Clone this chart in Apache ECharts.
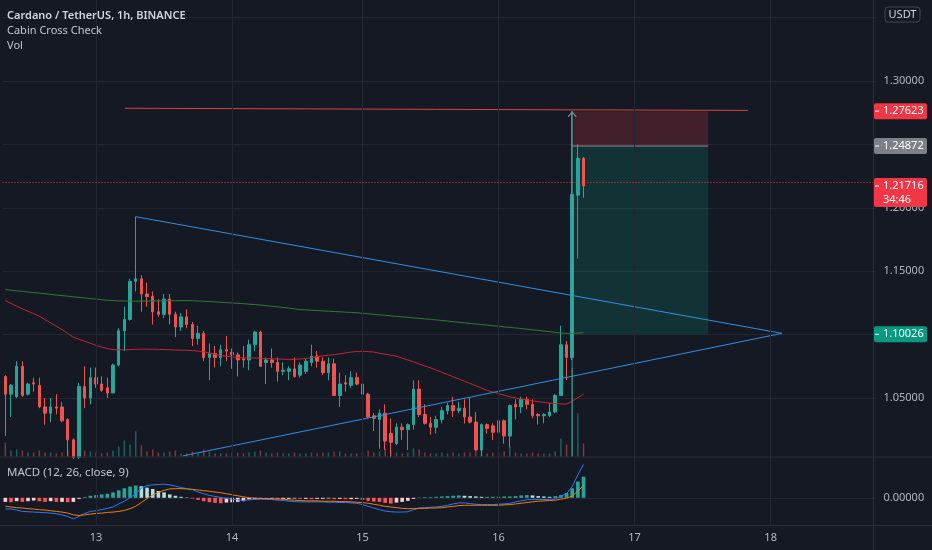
<!DOCTYPE html>
<html><head><meta charset="utf-8">
<script src="https://cdn.jsdelivr.net/npm/echarts@6/dist/echarts.min.js"></script>
<style>html,body{margin:0;padding:0;background:#151924;}#c{width:932px;height:550px;}</style>
</head><body><div id="c"></div>
<script>
// ---------- DATA ----------
// hourly bars, first bar = 12th 08:00 ; one hour missing on the 14th
const firstDay = 12, firstHour = 8, missingHour = '14 06', slotCount = 154;

const opens = [
1.067,1.053,1.051,1.075,1.053,1.062,1.060,1.043,1.038,1.043,
1.043,1.033,1.017,1.003,1.059,1.050,1.066,1.061,1.058,1.054,
1.076,1.103,1.112,1.142,1.144,1.132,1.130,1.118,1.116,1.128,
1.116,1.106,1.114,1.108,1.097,1.101,1.082,1.085,1.082,1.088,
1.086,1.084,1.081,1.080,1.092,1.102,1.078,1.080,1.078,1.071,
1.071,1.073,1.068,1.071,1.078,1.083,1.079,1.070,1.077,1.052,
1.062,1.060,1.066,1.061,1.053,1.036,1.033,1.038,1.022,1.014,
1.027,1.025,1.029,1.057,1.037,1.030,1.027,1.033,1.040,1.044,
1.040,1.042,1.035,1.031,1.009,1.029,1.028,1.023,1.032,1.020,
1.045,1.043,1.049,1.045,1.037,1.036,1.036,1.039,1.052,1.092,
1.082,1.210,1.239];
const closes = [
1.053,1.060,1.075,1.052,1.061,1.061,1.043,1.038,1.043,1.042,
1.032,1.017,1.003,1.059,1.050,1.066,1.061,1.056,1.054,1.076,
1.103,1.112,1.142,1.144,1.132,1.130,1.118,1.116,1.128,1.116,
1.106,1.114,1.108,1.097,1.101,1.082,1.085,1.082,1.088,1.087,
1.084,1.080,1.080,1.092,1.102,1.075,1.080,1.078,1.071,1.072,
1.073,1.067,1.076,1.079,1.083,1.079,1.070,1.077,1.052,1.061,
1.061,1.066,1.061,1.053,1.035,1.034,1.038,1.016,1.015,1.027,
1.025,1.029,1.057,1.037,1.030,1.027,1.033,1.040,1.044,1.040,
1.042,1.035,1.031,1.009,1.029,1.026,1.023,1.032,1.020,1.044,
1.043,1.049,1.045,1.036,1.036,1.037,1.039,1.052,1.092,1.082,
1.2105,1.239,1.21716];
const highs = [
1.068,1.061,1.079,1.079,1.062,1.066,1.066,1.050,1.050,1.053,
1.047,1.034,1.018,1.062,1.075,1.074,1.074,1.067,1.066,1.077,
1.105,1.122,1.144,1.193,1.147,1.141,1.134,1.128,1.132,1.132,
1.118,1.117,1.120,1.110,1.107,1.103,1.093,1.091,1.092,1.099,
1.089,1.086,1.091,1.096,1.103,1.103,1.082,1.089,1.082,1.078,
1.075,1.082,1.078,1.081,1.092,1.087,1.082,1.082,1.081,1.070,
1.068,1.071,1.070,1.064,1.054,1.038,1.041,1.045,1.034,1.030,
1.030,1.030,1.064,1.064,1.045,1.035,1.036,1.043,1.046,1.051,
1.047,1.049,1.050,1.039,1.030,1.030,1.030,1.042,1.033,1.045,
1.049,1.051,1.051,1.049,1.038,1.038,1.046,1.053,1.107,1.095,
1.2762,1.250,1.240];
const lows = [
1.020,1.035,1.050,1.051,1.052,1.055,1.042,1.029,1.031,1.037,
1.031,1.004,1.002,1.002,1.042,1.045,1.058,1.055,1.050,1.054,
1.075,1.087,1.111,1.134,1.118,1.122,1.108,1.114,1.113,1.108,
1.098,1.103,1.105,1.091,1.092,1.079,1.064,1.074,1.075,1.079,
1.073,1.067,1.074,1.072,1.087,1.075,1.061,1.074,1.063,1.068,
1.064,1.066,1.066,1.069,1.075,1.074,1.068,1.064,1.052,1.043,
1.055,1.058,1.060,1.052,1.034,1.024,1.010,1.009,1.003,1.013,
1.017,1.009,1.025,1.035,1.029,1.021,1.022,1.030,1.037,1.035,
1.038,1.030,1.030,1.009,1.004,1.022,1.017,1.021,1.014,1.011,
1.033,1.038,1.041,1.034,1.029,1.030,1.035,1.038,1.052,1.064,
1.080,1.160,1.208];
// volume (arbitrary units)
const volumes = [
14,6,7,6,4,4,6,4,4,3, 4,6,10,14,6,5,4,3,4,6,
10,16,12,25,11,5,7,4,4,5, 6,3,3,5,3,7,5,3,3,3,
4,4,3,4,5,6,4,3,4,3, 3,4,3,3,4,3,4,4,5,5,
3,3,3,4,6,4,5,8,6,4, 3,4,8,7,4,3,3,4,3,4,
3,4,4,8,8,3,4,4,5,10, 4,3,3,4,3,3,3,5,18,12,
88,43,13];
// "Cabin Cross Check" moving averages
const fastMA = [
1.1268,1.1246,1.1224,1.1204,1.1184,1.1165,1.1145,1.1118,1.1092,1.1066,
1.1039,1.1009,1.0979,1.0963,1.0947,1.0932,1.0916,1.0902,1.0889,1.0882,
1.0880,1.0880,1.0882,1.0884,1.0885,1.0885,1.0884,1.0883,1.0882,1.0880,
1.0878,1.0877,1.0876,1.0874,1.0870,1.0865,1.0855,1.0845,1.0834,1.0829,
1.0824,1.0820,1.0816,1.0816,1.0816,1.0814,1.0811,1.0810,1.0808,1.0806,
1.0805,1.0805,1.0808,1.0812,1.0818,1.0826,1.0832,1.0838,1.0842,1.0848,
1.0856,1.0862,1.0867,1.0868,1.0866,1.0862,1.0853,1.0845,1.0838,1.0830,
1.0815,1.0800,1.0785,1.0768,1.0752,1.0738,1.0720,1.0702,1.0685,1.0667,
1.0650,1.0632,1.0615,1.0597,1.0578,1.0560,1.0548,1.0535,1.0522,1.0510,
1.0500,1.0492,1.0485,1.0478,1.0471,1.0465,1.0460,1.0456,1.0453,1.0452,
1.0475,1.0503,1.0531];
const slowMA = [
1.1355,1.1350,1.1345,1.1341,1.1336,1.1331,1.1327,1.1322,1.1317,1.1312,
1.1308,1.1303,1.1298,1.1293,1.1289,1.1284,1.1280,1.1275,1.1271,1.1268,
1.1266,1.1265,1.1264,1.1264,1.1264,1.1265,1.1265,1.1266,1.1266,1.1267,
1.1267,1.1268,1.1268,1.1267,1.1265,1.1263,1.1261,1.1258,1.1255,1.1252,
1.1250,1.1247,1.1244,1.1240,1.1237,1.1233,1.1228,1.1224,1.1219,1.1214,
1.1209,1.1203,1.1197,1.1195,1.1192,1.1190,1.1187,1.1185,1.1182,1.1180,
1.1177,1.1175,1.1172,1.1168,1.1164,1.1160,1.1156,1.1152,1.1148,1.1144,
1.1140,1.1136,1.1132,1.1128,1.1124,1.1120,1.1116,1.1111,1.1107,1.1102,
1.1097,1.1093,1.1088,1.1084,1.1079,1.1075,1.1070,1.1066,1.1061,1.1057,
1.1052,1.1048,1.1043,1.1038,1.1033,1.1028,1.1023,1.1018,1.1013,1.1010,
1.1010,1.1012,1.1015];
// MACD (12, 26, close, 9) in units of 0.00025 USDT
const macdLine = [
-33,-33,-36,-40,-41,-42,-43,-44,-45,-47,
-50,-55,-62,-55,-46,-40,-38,-35,-31,-27,
-18,-10,0,12,28,36,38,39,40,38,
34,30,27,24,17,12,7,4,1,-2,
-4,-6,-8,-6,-5,-4,-5,-5,-7,-8,
-10,-11,-12,-12,-12,-12,-12,-13,-13,-14,
-14,-15,-16,-20,-25,-30,-35,-39,-41,-42,
-42,-41,-35,-30,-29,-28,-27,-25,-22,-18,
-15,-15,-17,-19,-20,-20,-20,-19,-18,-16,
-12,-9,-6,-5,-5,-5,-5,-3,5,12,
33,68,98];
const signalLine = [
-25,-27,-29,-30,-32,-33,-35,-36,-38,-40,
-42,-45,-50,-52,-50,-48,-46,-45,-43,-42,
-40,-37,-32,-25,-14,-2,8,16,22,26,
27,27,26,25,23,21,19,17,15,12,
9,6,3,0,-1,-2,-2,-3,-3,-4,
-6,-7,-8,-9,-9,-9,-10,-10,-10,-11,
-11,-12,-13,-14,-16,-19,-22,-25,-27,-29,
-31,-32,-32,-31,-31,-30,-30,-29,-27,-25,
-23,-22,-22,-22,-22,-22,-22,-22,-21,-20,
-18,-16,-14,-12,-10,-9,-8,-7,-4,-1,
5,20,36];
const macdHist = [
-12,-13,-10,-12,-10,-8,-10,-12,-10,-12,
-12,-13,-12,-3,2,6,8,10,12,16,
22,28,33,36,34,30,26,20,16,10,
6,3,1,-2,-6,-10,-13,-15,-16,-14,
-13,-12,-10,-5,-3,-2,-4,-3,-5,-4,
-3,-2,-3,-3,-4,-3,-3,-2,-4,-3,
-4,-4,-3,-6,-9,-11,-12,-15,-17,-14,
-12,-9,-3,1,2,2,3,4,5,6,
7,6,5,4,3,3,3,3,4,4,
5,7,8,7,5,4,3,5,8,14,
28,48,62];
// price-axis ticks
const priceTicks = [1.05, 1.10, 1.15, 1.20, 1.25, 1.30];
// drawings: [bar index, price]
const triangleUpper = [[23, 1.193], [137, 1.101]];
const triangleLower = [[31.3, 1.0043], [137, 1.101]];
const resistanceLine = [[21.1, 1.2785], [131, 1.2768]];
const arrowLine = [[100, 1.0035], [100, 1.2762]];
const positionBars = [100, 124];
const stopPrice = 1.27623, entryPrice = 1.24872, targetPrice = 1.10026, lastPrice = 1.21716;
const countdown = '34:46';

// ---------- BUILD ----------
const times = [];
{ let d = firstDay, h = firstHour;
  while (times.length < slotCount) {
    const lab = d + ' ' + String(h).padStart(2, '0');
    if (lab !== missingHour) times.push(lab);
    h++; if (h === 24) { h = 0; d++; }
  } }
const dayStarts = times.filter(t => t.endsWith(' 00'));
const candles = opens.map((o, i) => [o, closes[i], lows[i], highs[i]]);
const UP = '#26a69a', DOWN = '#ef5350', GRID = '#232733', TXT = '#b2b5be';
const FONT = '"Noto Sans", sans-serif';
const L = 2.5, R = 56.5;

const chart = echarts.init(document.getElementById('c'), null, {renderer: 'canvas'});
const hidden = {show: false};
const priceGridColors = [1.00,1.05,1.10,1.15,1.20,1.25,1.30,1.35,1.40].map(v => v < 1.01 ? 'transparent' : GRID);
const macdGridColors = [-80,-60,-40,-20,0,20,40,60,80,100,120].map(v => v === 0 ? GRID : 'transparent');

chart.setOption({
  animation: false,
  backgroundColor: '#151924',
  grid: [
    {left: L, right: R, top: 81 - 0.10 * 1268, height: 0.40 * 1268, outerBoundsMode: 'none'},
    {left: L, right: R, top: 366, height: 90.5, outerBoundsMode: 'none'},
    {left: L, right: R, top: 457, height: 68, outerBoundsMode: 'none'}
  ],
  xAxis: [
    {type: 'category', gridIndex: 0, data: times, boundaryGap: true, axisLine: hidden, axisTick: hidden, axisLabel: hidden, splitLine: hidden},
    {type: 'value', gridIndex: 0, min: -0.5, max: slotCount - 0.5, show: false, splitLine: hidden},
    {type: 'category', gridIndex: 1, data: times, boundaryGap: true, show: false},
    {type: 'category', gridIndex: 2, data: times, boundaryGap: true,
      axisLine: hidden, axisTick: hidden, splitLine: hidden,
      axisLabel: {interval: (i, v) => v.endsWith(' 00'), formatter: v => v.split(' ')[0],
        color: TXT, fontSize: 11, fontFamily: FONT, margin: 7}}
  ],
  yAxis: [
    {type: 'value', gridIndex: 0, position: 'right', min: 1.00, max: 1.40, interval: 0.05,
      axisLine: hidden, axisTick: hidden,
      axisLabel: {color: TXT, fontSize: 11, fontFamily: FONT, margin: 8,
        formatter: v => priceTicks.some(t => Math.abs(t - v) < 1e-6) ? v.toFixed(5) : ''},
      splitLine: {show: true, lineStyle: {color: priceGridColors, width: 1}}},
    {type: 'value', gridIndex: 1, min: 0, max: 90, show: false, splitLine: hidden},
    {type: 'value', gridIndex: 2, position: 'right', min: -80, max: 120, interval: 20,
      axisLine: hidden, axisTick: hidden,
      axisLabel: {color: TXT, fontSize: 11, fontFamily: FONT, margin: 8,
        formatter: v => Math.abs(v) < 1e-9 ? '0.00000' : ''},
      splitLine: {show: true, lineStyle: {color: macdGridColors, width: 1}}}
  ],
  series: [
    {type: 'candlestick', xAxisIndex: 0, yAxisIndex: 0, data: candles, barWidth: 3,
      itemStyle: {color: UP, color0: DOWN, borderColor: UP, borderColor0: DOWN, borderWidth: 1},
      markLine: {silent: true, symbol: ['none', 'none'], label: hidden, animation: false,
        data: [
          ...dayStarts.map(n => ({xAxis: n, lineStyle: {color: GRID, width: 1, type: 'solid'}})),
          {yAxis: lastPrice, lineStyle: {color: '#f23645', width: 1, type: [1, 2]}}
        ]}},
    {type: 'line', xAxisIndex: 0, yAxisIndex: 0, data: fastMA, showSymbol: false, symbol: 'none',
      lineStyle: {color: '#c2262f', width: 1}, z: 3},
    {type: 'line', xAxisIndex: 0, yAxisIndex: 0, data: slowMA, showSymbol: false, symbol: 'none',
      lineStyle: {color: '#2e7d32', width: 1}, z: 3},
    // position tool
    {type: 'line', xAxisIndex: 1, yAxisIndex: 0, symbol: 'none',
      data: [[positionBars[0], entryPrice], [positionBars[1], entryPrice]],
      lineStyle: {color: '#8a8d96', width: 1}, z: 4,
      markArea: {silent: true, data: [
        [{coord: [positionBars[0], entryPrice], itemStyle: {color: 'rgba(242,54,69,0.2)'}}, {coord: [positionBars[1], stopPrice]}],
        [{coord: [positionBars[0], targetPrice], itemStyle: {color: 'rgba(8,153,129,0.2)'}}, {coord: [positionBars[1], entryPrice]}]
      ]}},
    {type: 'line', xAxisIndex: 1, yAxisIndex: 0, symbol: 'none', data: triangleUpper,
      lineStyle: {color: '#2f8fe6', width: 1}, z: 4},
    {type: 'line', xAxisIndex: 1, yAxisIndex: 0, symbol: 'none', data: triangleLower,
      lineStyle: {color: '#2f8fe6', width: 1}, z: 4},
    {type: 'line', xAxisIndex: 1, yAxisIndex: 0, symbol: 'none', data: resistanceLine,
      lineStyle: {color: '#d9443c', width: 1}, z: 4},
    {type: 'line', xAxisIndex: 1, yAxisIndex: 0, showSymbol: true,
      data: [{value: arrowLine[0], symbol: 'none'},
             {value: arrowLine[1], symbol: 'path://M0,0 L6,6 L5,7 L0,2 L-5,7 L-6,6 Z', symbolSize: [9, 6], symbolOffset: [0, 3]}],
      itemStyle: {color: '#6f8f8c'}, lineStyle: {color: 'rgba(80,160,150,0.85)', width: 1}, z: 5},
    // volume
    {type: 'bar', xAxisIndex: 2, yAxisIndex: 1, data: volumes, barWidth: 1.5,
      itemStyle: {color: p => closes[p.dataIndex] >= opens[p.dataIndex] ? 'rgba(38,166,154,0.5)' : 'rgba(239,83,80,0.5)'}},
    // MACD
    {type: 'bar', xAxisIndex: 3, yAxisIndex: 2, data: macdHist, barWidth: 3.6,
      itemStyle: {color: p => {
        const i = p.dataIndex, v = macdHist[i], pv = i > 0 ? macdHist[i - 1] : v;
        return v >= 0 ? (v >= pv ? '#26a69a' : '#b2dfdb') : (v < pv ? '#ff5252' : '#ffcdd2');
      }},
      markLine: {silent: true, symbol: ['none', 'none'], label: hidden,
        data: dayStarts.map(n => ({xAxis: n, lineStyle: {color: GRID, width: 1, type: 'solid'}}))}},
    {type: 'line', xAxisIndex: 3, yAxisIndex: 2, data: macdLine, symbol: 'none',
      lineStyle: {color: '#2979ff', width: 1}, z: 4},
    {type: 'line', xAxisIndex: 3, yAxisIndex: 2, data: signalLine, symbol: 'none',
      lineStyle: {color: '#f57c00', width: 1}, z: 4}
  ]
});

// ---------- overlays: legend text, separators, price tags ----------
const yPx = p => chart.convertToPixel({yAxisIndex: 0}, p);
const g = [];
const sep = '#2a2e39';
g.push({type: 'line', shape: {x1: 0, y1: 457, x2: 932, y2: 457}, style: {stroke: sep, lineWidth: 1}, z: 50});
g.push({type: 'line', shape: {x1: 0, y1: 525.5, x2: 932, y2: 525.5}, style: {stroke: sep, lineWidth: 1}, z: 50});
g.push({type: 'line', shape: {x1: 873.5, y1: 0, x2: 873.5, y2: 550}, style: {stroke: sep, lineWidth: 1}, z: 50});
const txt = (x, y, s, size, color, weight) => ({type: 'text', x, y, z: 60,
  style: {text: s, fill: color, fontSize: size, fontFamily: FONT, fontWeight: weight || 'normal', verticalAlign: 'middle', align: 'left'}});
g.push(txt(7, 15.5, 'Cardano / TetherUS, 1h, BINANCE', 11, '#d1d4dc', 600));
g.push(txt(7, 30.5, 'Cabin Cross Check', 11, '#c3c6ce'));
g.push(txt(7, 45.5, 'Vol', 11, '#c3c6ce'));
g.push(txt(7, 472.5, 'MACD (12, 26, close, 9)', 11.5, '#c3c6ce'));
// USDT button
g.push({type: 'rect', shape: {x: 885, y: 7, width: 35, height: 15, r: 3}, style: {fill: '#151924', stroke: '#434651', lineWidth: 1}, z: 60});
g.push({type: 'text', x: 902.5, y: 14.5, z: 61, style: {text: 'USDT', fill: '#d1d4dc', fontSize: 11, fontFamily: FONT, align: 'center', verticalAlign: 'middle'}});
function tag(price, bg, extra) {
  const y = yPx(price);
  const h = extra ? 29 : 16;
  g.push({type: 'rect', shape: {x: 874, y: y - 8, width: 53, height: h, r: 2}, style: {fill: bg}, z: 70});
  g.push({type: 'line', shape: {x1: 875, y1: y, x2: 879, y2: y}, style: {stroke: '#ffffff', lineWidth: 1}, z: 71});
  g.push({type: 'text', x: 883, y: y, z: 71, style: {text: price.toFixed(5), fill: '#ffffff', fontSize: 11, fontFamily: FONT, verticalAlign: 'middle'}});
  if (extra) g.push({type: 'text', x: 883, y: y + 13.5, z: 71, style: {text: extra, fill: '#ffffff', fontSize: 11, fontFamily: FONT, verticalAlign: 'middle'}});
}
tag(stopPrice, '#f23645');
tag(entryPrice, '#7d8089');
tag(lastPrice, '#f23645', countdown);
tag(targetPrice, '#089981');
chart.setOption({graphic: g});
</script></body></html>
